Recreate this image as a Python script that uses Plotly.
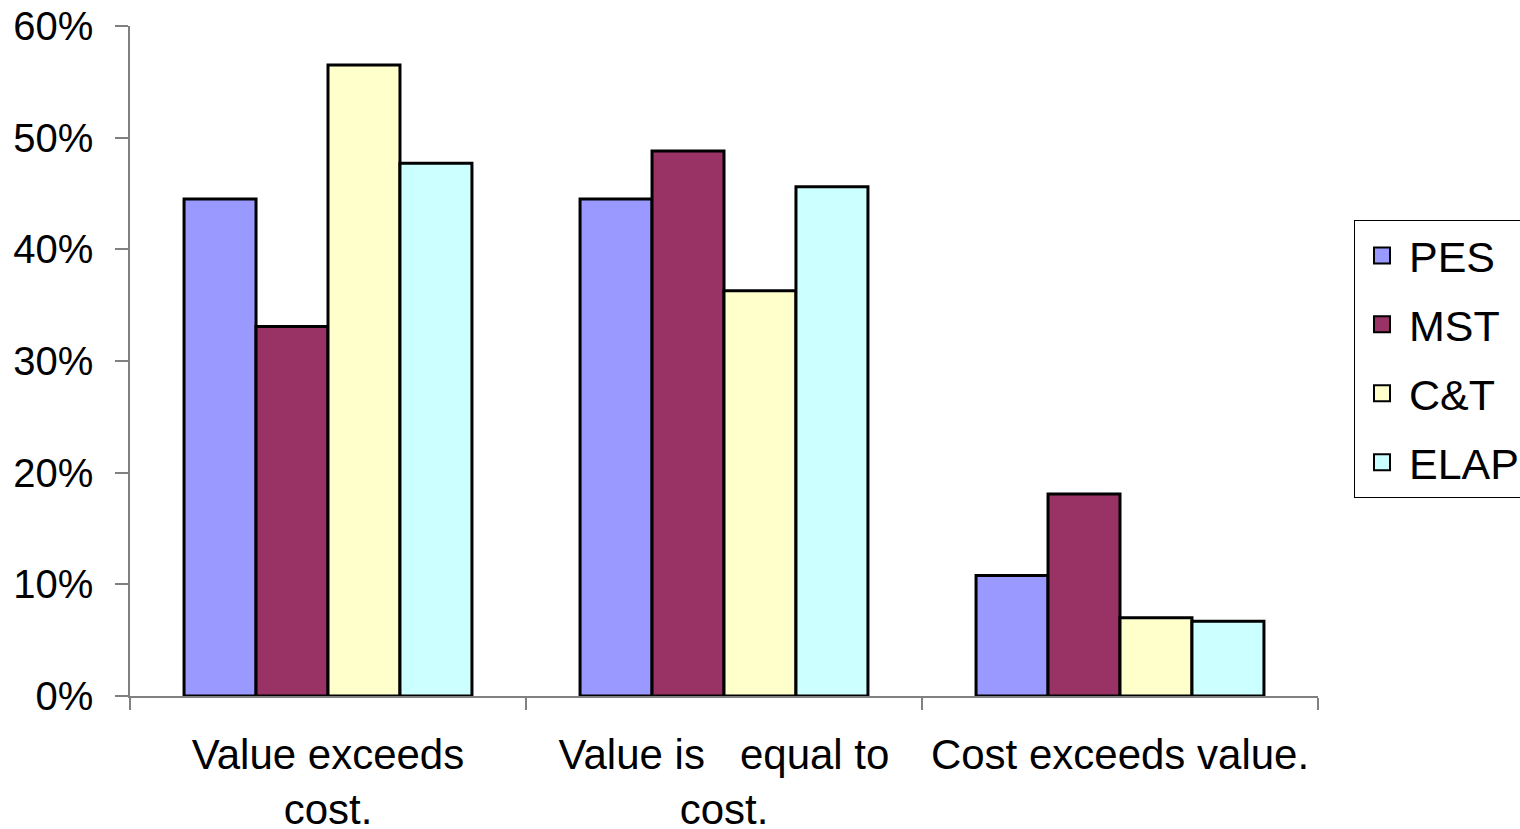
import plotly.graph_objects as go

# Survey answers by programme, as share of respondents
categories = ["Value exceeds<br>cost.", "Value is\u00a0\u00a0 equal to<br>cost.", "Cost exceeds value."]
series_names = ["PES", "MST", "C&T", "ELAP"]
pes = [0.445, 0.445, 0.108]
mst = [0.331, 0.488, 0.181]
ct = [0.565, 0.363, 0.070]
elap = [0.477, 0.456, 0.067]
colors = ["#9999FF", "#993366", "#FFFFCC", "#CCFFFF"]

y_ticks = [0, 0.1, 0.2, 0.3, 0.4, 0.5, 0.6]
y_labels = ["0%", "10%", "20%", "30%", "40%", "50%", "60%"]

FONT = "Liberation Sans, Arial, sans-serif"

fig = go.Figure()
for i, (name, vals) in enumerate(zip(series_names, [pes, mst, ct, elap])):
    fig.add_trace(go.Bar(
        x=categories, y=vals, name=name,
        marker=dict(color=colors[i], line=dict(color="black", width=3)),
        legendgroup=name, showlegend=False,
    ))
    # legend entry with a larger square swatch
    fig.add_trace(go.Scatter(
        x=[None], y=[None], name=name, mode="markers",
        marker=dict(symbol="square", size=16, color=colors[i],
                    line=dict(color="black", width=2)),
        legendgroup=name, showlegend=True, hoverinfo="skip",
    ))

fig.update_layout(
    width=1520, height=829,
    paper_bgcolor="white", plot_bgcolor="white",
    margin=dict(l=130, r=202, t=26, b=133, autoexpand=False),
    barmode="group", bargap=0.273, bargroupgap=0,
    font=dict(family=FONT, size=40, color="black"),
    showlegend=True,
    legend=dict(
        x=1.0303, xanchor="left", y=0.503, yanchor="middle",
        bordercolor="black", borderwidth=1, bgcolor="white",
        font=dict(family=FONT, size=43, color="black"),
        tracegroupgap=10, itemsizing="trace", itemwidth=44,
    ),
    xaxis=dict(
        showline=True, linecolor="#808080", linewidth=1.5,
        ticks="outside", tickson="boundaries", ticklen=12, tickcolor="#808080", tickwidth=1.5,
        showgrid=False, zeroline=False, tickangle=0,
        tickfont=dict(family=FONT, size=42, color="black"),
        ticklabelstandoff=21,
    ),
    yaxis=dict(
        range=[0, 0.6], tickvals=y_ticks, ticktext=y_labels,
        showline=True, linecolor="#808080", linewidth=1.5,
        ticks="outside", ticklen=13, tickcolor="#808080", tickwidth=1.5,
        showgrid=False, zeroline=False,
        tickfont=dict(family=FONT, size=40, color="black"),
        ticklabelstandoff=14,
    ),
)

fig.write_html("out.html")
